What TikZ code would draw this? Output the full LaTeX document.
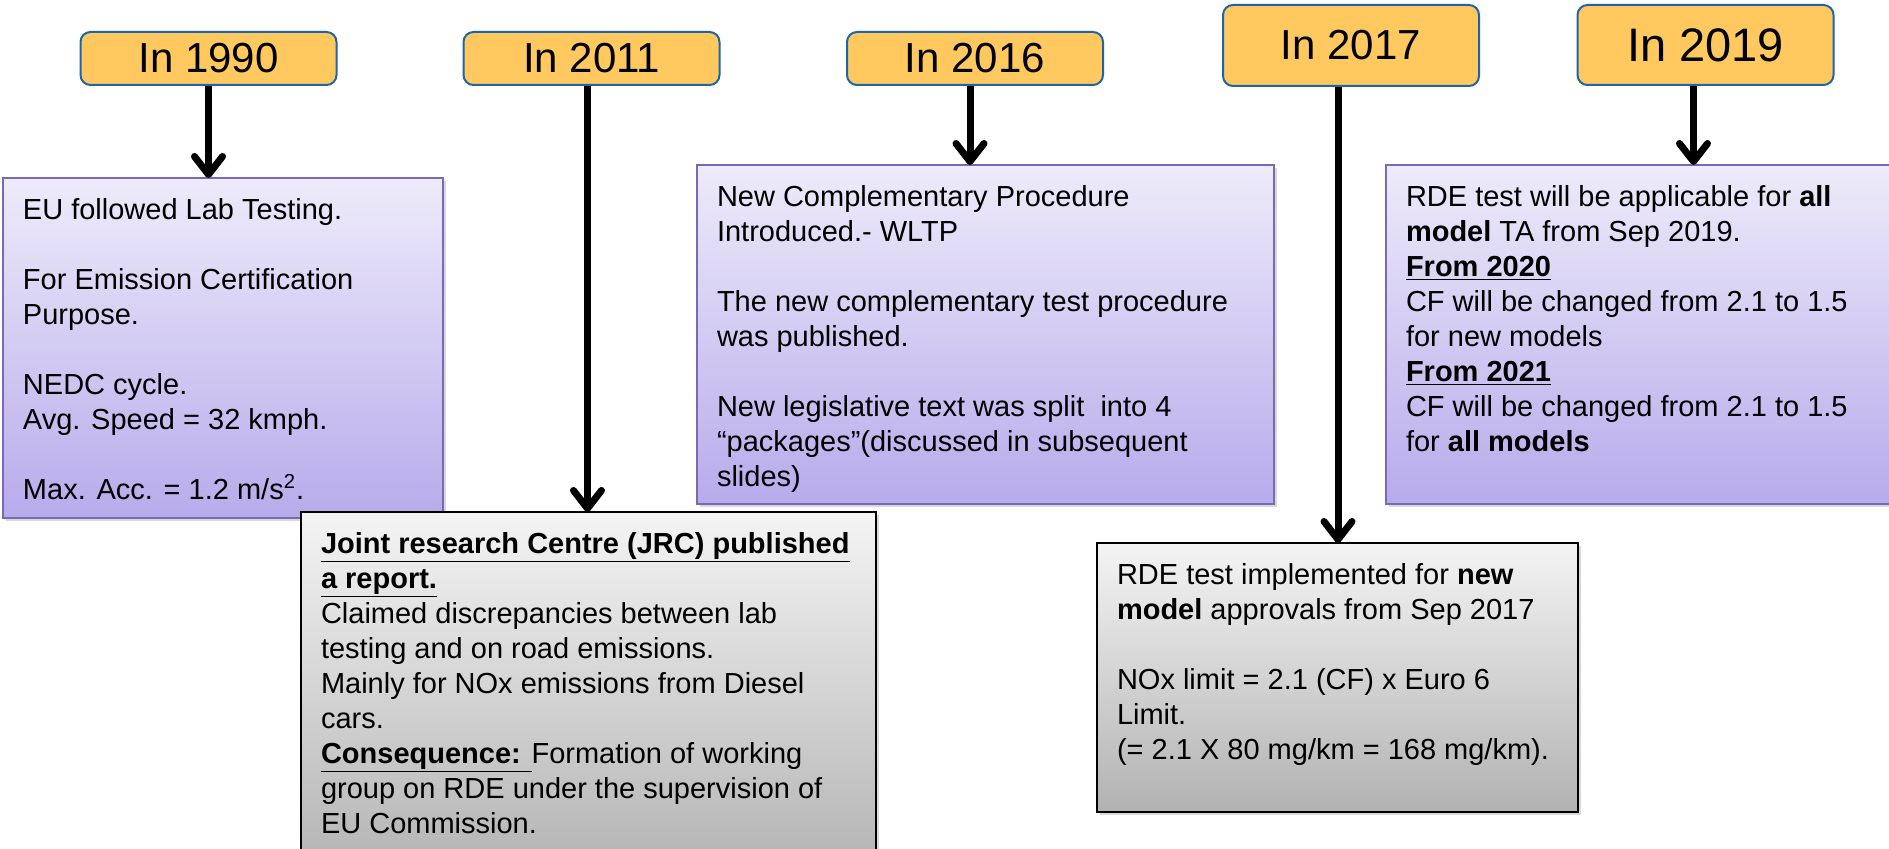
\documentclass[tikz,border=0pt]{standalone}
\usepackage{fontspec}
\setmainfont{Liberation Sans}
\usetikzlibrary{arrows.meta,shadows}

\definecolor{yearfill}{HTML}{FFC95F}
\definecolor{yearline}{HTML}{1F64A8}
\definecolor{lavtop}{HTML}{EEEBFA}
\definecolor{lavbot}{HTML}{B7ABEB}
\definecolor{lavline}{HTML}{7B69B8}
\definecolor{greytop}{HTML}{F4F4F4}
\definecolor{greybot}{HTML}{B2B2B2}

% text block of a box: width, height, lines
\newcommand{\boxtext}[3]{\parbox[t][#2][t]{#1}{\fontsize{14.5pt}{17.5pt}\selectfont #3}}
\newcommand{\ulb}[1]{\underline{\textbf{#1}}}

\begin{document}
\begin{tikzpicture}[x=0.5pt,y=-0.5pt]
    % Define style for year labels and event boxes
    \tikzstyle{year} = [draw=yearline, fill=yearfill, line width=1pt, rounded corners=5pt, minimum width=128pt, inner sep=0pt]
    \tikzstyle{lavbox} = [draw=lavline, line width=1pt, top color=lavtop, bottom color=lavbot, inner sep=10pt, outer sep=0pt, anchor=north west, drop shadow={shadow xshift=1.5pt, shadow yshift=-1.5pt, opacity=.3}]
    \tikzstyle{greybox} = [draw=black, line width=1pt, top color=greytop, bottom color=greybot, inner sep=10pt, outer sep=0pt, anchor=north west, drop shadow={shadow xshift=1.5pt, shadow yshift=-1.5pt, opacity=.3}]
    \tikzstyle{arr} = [line width=3.5pt, -{Straight Barb[length=9pt,width=14pt,round]}]

    \useasboundingbox (0,0) rectangle (1889,849);
    \clip (0,0) rectangle (1889,849);
    \fill[white] (0,0) rectangle (1889,849);

    % Draw the year labels
    \foreach \yr/\x/\y/\h/\fs in {1990/208.5/58.5/26.5/21, 2011/591.5/58.5/26.5/21,
        2016/975/58.5/26.5/21, 2017/1351/45.5/40.5/21, 2019/1705.5/45/40/23.5} {
        \node(y\yr)[year, minimum height=\h pt] at (\x,\y) {\fontsize{\fs pt}{\fs pt}\selectfont In \yr};
      }

    % Draw the event boxes
    \node(b1990)[lavbox] at (3,178) {\boxtext{200pt}{150pt}{%
        EU followed Lab Testing.\\[17.5pt]
        For Emission Certification\\
        Purpose.\\[17.5pt]
        NEDC cycle.\\
        Avg. Speed = 32 kmph.\\[17.5pt]
        Max. Acc. = 1.2 m/s\textsuperscript{2}.}};

    \node(b2016)[lavbox] at (697,165) {\boxtext{268.5pt}{149.5pt}{%
        New Complementary Procedure\\
        Introduced.- WLTP\\[17.5pt]
        The new complementary test procedure\\
        was published.\\[17.5pt]
        New legislative text was split\ \ into 4\\
        “packages”(discussed in subsequent\\
        slides)}};

    \node(b2019)[lavbox] at (1386,165) {\boxtext{242pt}{149.5pt}{%
        RDE test will be applicable for \textbf{all}\\
        \textbf{model} TA from Sep 2019.\\
        \ulb{From 2020}\\
        CF will be changed from 2.1 to 1.5\\
        for new models\\
        \ulb{From 2021}\\
        CF will be changed from 2.1 to 1.5\\
        for \textbf{all models}}};

    \node(b2011)[greybox] at (301,512) {\boxtext{267.5pt}{164pt}{%
        \ulb{Joint research Centre (JRC) published}\\
        \ulb{a report.}\\
        Claimed discrepancies between lab\\
        testing and on road emissions.\\
        Mainly for NOx emissions from Diesel\\
        cars.\\
        \ulb{Consequence: }Formation of working\\
        group on RDE under the supervision of\\
        EU Commission.}};

    \node(b2017)[greybox] at (1097,543) {\boxtext{220.5pt}{114.5pt}{%
        RDE test implemented for \textbf{new}\\
        \textbf{model} approvals from Sep 2017\\[17.5pt]
        NOx limit = 2.1 (CF) x Euro 6\\
        Limit.\\
        (= 2.1 X 80 mg/km = 168 mg/km).}};

    % Arrows from year to event
    \foreach \yr/\dx in {1990/0, 2011/-2, 2016/-2.5, 2017/-6.5, 2019/-6} {
        \draw[arr] ([xshift=\dx pt]y\yr.south) -- ([xshift=\dx pt]y\yr.south |- b\yr.north);
      }
  \end{tikzpicture}
\end{document}
